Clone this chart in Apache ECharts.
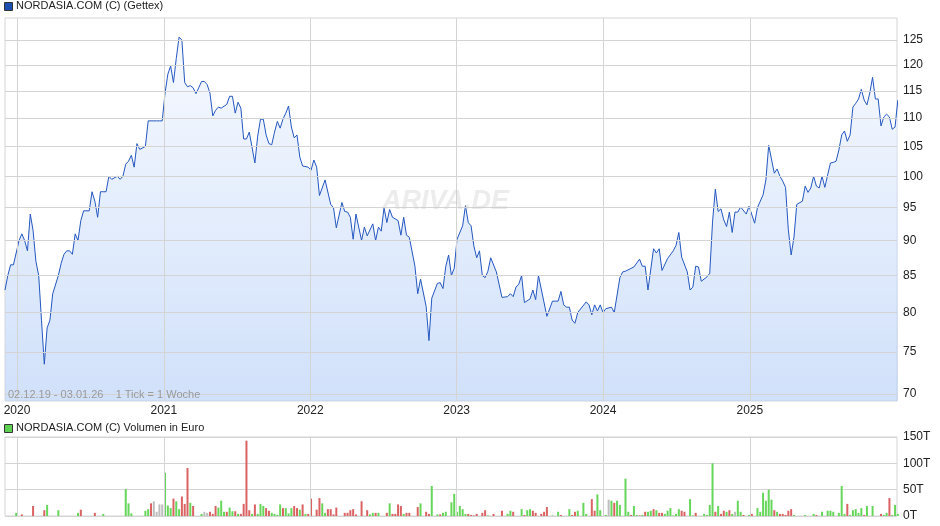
<!DOCTYPE html>
<html>
<head>
<meta charset="utf-8">
<script src="https://cdn.jsdelivr.net/npm/echarts@6/dist/echarts.min.js"></script>
<style>
  html, body { margin: 0; padding: 0; background: #fff; }
  #chart { width: 940px; height: 526px; }
</style>
</head>
<body>
<div id="chart"></div>
<script>
// week index counted from 02.12.19 (one tick = one week)
var priceWeeks = [0,1,2,3,5,6,7,8,9,10,11,12,13,14,15,16,17,19,20,21,22,23,24,25,26,27,28,30,31,32,33,34,35,36,37,38,40,41,42,43,44,45,46,47,48,50,51,52,53,54,55,56,
  57,58,59,60,61,62,63,64,65,66,67,68,69,70,71,72,73,74,75,76,77,79,80,81,82,83,84,85,86,87,89,90,91,92,93,94,95,96,97,98,99,100,101,102,103,104,105,106,108,
  109,110,111,112,114,116,117,118,120,121,122,123,124,125,127,128,129,131,132,133,134,135,136,137,138,140,141,142,143,144,146,147,148,150,151,152,154,155,156,157,
  158,159,160,161,163,164,165,166,167,168,169,170,171,172,173,175,177,179,180,181,182,183,184,185,187,188,189,190,193,195,197,198,199,200,201,202,203,204,207,208,
  209,210,211,212,213,214,216,217,219,
  220,221,223,224,226,227,228,229,231,232,233,234,236,238,239,240,241,243,244,245,246,247,248,250,251,252,253,254,255,256,257,258,259,260,261,262,264,265,267,268,
  270,271,272,274,275,276,277,278,279,280,281,282,284,285,286,287,288,289,290,291,292,293,294,295,296,297,298,299,300,301,302,303,304,305,306,307,308,309,310,311,
  312,313,314,315,316,317,318];
var priceValues = [83,85,86.5,86.5,90,91,90,88.5,94,91.5,87,85,79,73.5,78,79,82.5,85,86.7,88,88.5,88.5,88,91,90,93,94.5,94.5,97.5,96,93.5,97.5,97.5,97.5,100,99.5,100,99.5,100,102,102.5,103.5,101.5,105.5,104.5,105,109.5,109.5,109.5,109.5,109.5,109.5,
  114.6,118.2,119.8,116.6,121.3,125.6,125,116.6,115.8,116,115.6,114.5,115.6,116.8,116.8,116.2,114.6,110.4,111.4,112,111.8,112.5,114,114,110.9,112.9,111.8,106.3,106.3,107.5,102.2,106.8,109.8,109.8,107,105.5,105.3,107.5,109.4,108.2,109.8,110.9,112.2,108.4,106.5,107,103.2,101.7,101.5,
  101,102.7,101.5,96.9,99.4,95.5,95,91.9,95.8,94.4,94.3,93.5,90.2,94,90,92,90.7,92.5,90,92,91.4,95,92.7,94.7,93.5,93,90.8,93.5,90.8,90.5,86.3,82.5,84.5,80.8,76.4,81.9,83.9,84,83.2,86.3,
  87.9,85,86,90.2,92.2,95.3,92.7,92.2,89.2,87.5,88.5,85,84.7,85.6,87.5,85.5,82,82.1,82.5,82.1,83.4,83.8,85,81.3,81.8,83,81.7,85,79.5,81.5,81.5,82.8,81,80.7,80.7,79,78.6,80,81.4,81,
  79.7,81,80.2,81,80,80.5,80.7,80,84.7,
  85.5,85.6,86.0,86.2,87.3,86.3,86.3,83.0,88.8,88.2,88.8,85.7,87.4,88.5,89.3,91.2,87.6,85.5,83.0,83.4,86.3,86.2,84.2,84.8,85.3,92.8,97.9,94.4,94.8,93.1,92.1,94.3,91.2,94.3,94.3,95.1,94.0,95.2,92.6,95.0,
  97.0,99.4,105.2,100.5,101.2,100,99.2,98.2,91.6,87.9,90.5,95.5,96.0,98.4,97.4,98.1,100,98.4,98.1,100,98.2,100.2,102.2,102.3,102.5,104.4,107.0,107.7,105.9,107.0,112.0,112.7,113.5,115.3,113.3,112.4,114.6,117.6,113.5,113.5,
  108.6,110.2,110.7,110.2,108.0,108.4,113.3];

// volume in thousand euro; dir: u = up week, d = down week, n = unchanged
var volWeeks = [4,6,10,14,15,19,26,27,32,35,43,44,45,50,51,52,53,54,55,56,57,58,59,60,61,62,63,64,65,66,67,70,71,72,73,74,75,76,77,78,79,80,81,82,83,84,85,86,87,88,89,90,91,92,93,94,95,96,97,98,99,100,101,102,103,104,105,106,107,108,
  109,111,112,113,114,115,116,117,118,121,122,123,124,125,127,129,130,131,132,133,136,137,138,139,140,141,142,143,144,147,148,150,151,152,154,155,156,157,159,160,161,162,163,164,165,
  166,167,168,170,171,172,174,177,179,180,181,184,185,186,187,188,189,191,192,193,195,197,198,201,202,203,204,206,207,209,210,211,212,214,215,216,217,218,219,221,222,223,224,225,226,227,228,229,230,231,232,233,234,235,236,237,238,239,240,241,242,244,245,246,
  249,250,251,252,253,254,255,256,257,258,259,260,261,262,263,265,266,268,269,270,271,272,273,274,275,276,277,278,279,280,281,285,288,289,291,293,294,295,297,298,299,300,301,302,303,304,305,306,307,309,312,313,314,315,316,317,318];
var volValues = [6,3,19,11,21,11,6,12,6,4,51,24,5,10,13,24,28,8,22,22,82,20,15,33,28,13,37,23,91,25,19,4,8,6,8,4,19,16,29,8,8,16,9,9,4,4,23,143,11,4,22,4,23,19,15,10,6,4,2,22,15,15,5,15,19,15,12,22,4,4,
  33,12,34,24,6,13,13,3,16,6,6,11,13,3,28,11,3,6,6,6,6,24,4,4,22,19,4,6,6,17,24,8,4,57,3,3,6,8,26,42,8,19,13,4,4,
  2,1,4,6,11,1,4,10,4,10,8,13,2,11,13,10,6,4,8,17,1,8,2,13,2,8,10,25,4,32,10,41,11,2,31,29,25,29,21,71,8,2,19,2,1,2,8,8,10,13,11,6,6,4,10,15,1,4,13,10,8,32,1,6,
  4,2,21,100,8,19,4,10,8,11,4,8,29,8,2,2,4,15,8,44,29,50,31,11,8,4,4,2,10,13,2,2,4,2,8,10,10,8,6,57,4,23,2,11,13,6,15,2,19,19,4,2,6,34,2,21,4];
var volDirs = (
  "u d d d u u u d d u u u u u u d n n n n u u u d u u d d d u d u n n d d d u u u d u u d u d d d d u d u u u d d u u u u d u u u d d u d u d " +
  "d d d u u d d d d d d d d d d d u u d u d u d d d d u d d d u d d u u d u u u u u u u u d " +
  "d d d d d u d d u u d u d u u d d d d d u u d u d d u u u d d u u u n u d u u u u d u u d u d u u d u d d u u u u u u d d u u d " +
  "u u u u d u d d u d u n u u d u d u u u u u u d u d d d d d u u u d u u u u u u u d u u u u u d u u d u u d u u u").split(" ");

var yearLabels = ["2020", "2021", "2022", "2023", "2024", "2025"];
var yearWeeks = [4.29, 56.57, 108.71, 160.86, 213.0, 265.29];
var priceTicks = [70, 75, 80, 85, 90, 95, 100, 105, 110, 115, 120, 125];

var priceData = priceWeeks.map(function (w, i) { return [w, priceValues[i]]; });
var dirColor = { u: "#66d65a", d: "#db6262", n: "#bdbdbd" };
var volData = volWeeks.map(function (w, i) {
  return { value: [w, volValues[i]], itemStyle: { color: dirColor[volDirs[i]] || "#66d65a" } };
});

var chart = echarts.init(document.getElementById("chart"));
chart.setOption({
  animation: false,
  grid: [
    { left: 5, right: 43, top: 18, height: 383, show: true, borderColor: "#d4d4d4", borderWidth: 1 },
    { left: 5, right: 43, top: 437, height: 79, show: true, borderColor: "#d4d4d4", borderWidth: 1 }
  ],
  xAxis: [
    { type: "value", gridIndex: 0, min: 0, max: 317.7, axisLine: { show: false }, axisTick: { show: false },
      axisLabel: { show: false }, splitLine: { show: false } },
    { type: "value", gridIndex: 1, min: 0, max: 317.7, axisLine: { show: false }, axisTick: { show: false },
      axisLabel: { show: false }, splitLine: { show: false } }
  ],
  yAxis: [
    { type: "log", gridIndex: 0, min: 69.2, max: 129.6, axisLine: { show: false }, axisTick: { show: false },
      axisLabel: { show: false }, splitLine: { show: false } },
    { type: "value", gridIndex: 1, position: "right", min: 0, max: 150, interval: 50,
      axisLine: { show: false }, axisTick: { show: false },
      axisLabel: { formatter: function (v) { return v + "T"; }, color: "#222", fontSize: 12, fontFamily: "Liberation Sans", margin: 6 },
      splitLine: { lineStyle: { color: "#d4d4d4" } } }
  ],
  series: [
    {
      type: "line", xAxisIndex: 0, yAxisIndex: 0, data: priceData, showSymbol: false,
      lineStyle: { color: "#2457c0", width: 1 },
      areaStyle: { origin: "start", color: new echarts.graphic.LinearGradient(0, 0, 0, 1, [
        { offset: 0, color: "#f2f6fe" }, { offset: 1, color: "#bcd3f7" }]) },
      markLine: {
        silent: true, symbol: "none", animation: false,
        data: priceTicks.map(function (t) {
          return { yAxis: t, lineStyle: { color: "#d4d4d4", width: 1, type: "solid" },
            label: { show: true, position: "end", formatter: String(t), color: "#222", fontSize: 12, fontFamily: "Liberation Sans", distance: 6 } };
        }).concat(yearWeeks.map(function (w, i) {
          return { xAxis: w, lineStyle: { color: "#d4d4d4", width: 1, type: "solid" },
            label: { show: true, position: "start", formatter: yearLabels[i], color: "#222", fontSize: 12, fontFamily: "Liberation Sans", distance: 4 } };
        }))
      },
      z: 3
    },
    {
      type: "bar", xAxisIndex: 1, yAxisIndex: 1, data: volData, barWidth: 2,
      markLine: {
        silent: true, symbol: "none", animation: false, label: { show: false },
        data: yearWeeks.map(function (w) { return { xAxis: w, lineStyle: { color: "#d4d4d4", width: 1, type: "solid" } }; })
      }
    }
  ],
  graphic: [
    { type: "rect", left: 4, top: 2, shape: { width: 8, height: 8 }, style: { fill: "#1d4fb0", stroke: "#333", lineWidth: 1 } },
    { type: "text", left: 16, top: 0, style: { text: "NORDASIA.COM (C) (Gettex)", fill: "#222", font: "11px Liberation Sans" } },
    { type: "rect", left: 4, top: 424, shape: { width: 8, height: 8 }, style: { fill: "#5fd152", stroke: "#333", lineWidth: 1 } },
    { type: "text", left: 16, top: 422, style: { text: "NORDASIA.COM (C) Volumen in Euro", fill: "#222", font: "11px Liberation Sans" } },
    { type: "text", left: 8, top: 389, style: { text: "02.12.19 - 03.01.26    1 Tick = 1 Woche", fill: "#9a9a9a", font: "11px Liberation Sans" }, z: 10 },
    { type: "text", left: 382, top: 188, style: { text: "ARIVA.DE", fill: "rgba(200,200,200,0.35)", font: "italic bold 27px Liberation Sans" }, z: 10 }
  ]
});
</script>
</body>
</html>
